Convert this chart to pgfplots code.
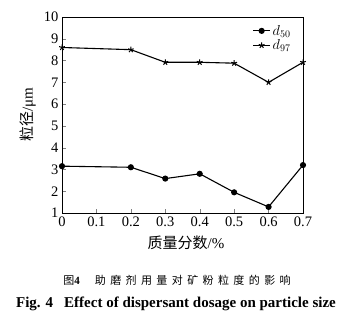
\documentclass[border=0pt]{standalone}
\usepackage{fontspec}
\setmainfont{Liberation Serif}
\newfontfamily\cjk{Noto Sans CJK SC}
\newfontfamily\cjkcap[LetterSpace=40]{Noto Sans CJK SC}
\usepackage{pgfplots}
\pgfplotsset{compat=1.18}
\begin{document}
\begin{tikzpicture}[x=1pt,y=1pt]
\useasboundingbox (0,0) rectangle (345,327);
\begin{axis}[
  at={(62pt,114pt)}, anchor=origin,
  scale only axis, width=241pt, height=196pt,
  xmin=0, xmax=0.7, ymin=1, ymax=10,
  xtick={0,0.1,...,0.7}, ytick={1,...,10},
  xticklabels={0,0.1,0.2,0.3,0.4,0.5,0.6,0.7},
  tick align=inside, tick pos=left,
  major tick length=4pt,
  axis line style={line width=1pt},
  /pgf/number format/assume math mode=true,
  tick label style={font=\fontsize{14.5}{14}\selectfont},
  legend style={draw=none, fill=none, at={(0.97,0.98)}, anchor=north east,
    font=\fontsize{14.5}{14}\selectfont, row sep=-1pt},
  legend cell align=left,
  clip=false,
]
\addplot[black, line width=1.1pt, mark=*, mark size=2.5pt] coordinates {
(0,3.15) (0.2,3.1) (0.3,2.58) (0.4,2.8) (0.5,1.95) (0.6,1.28) (0.7,3.2)};
\addlegendentry{$d_{50}$}
\addplot[black, line width=1.1pt, mark=star, mark size=3pt, mark options={line width=1pt}] coordinates {
(0,8.6) (0.2,8.5) (0.3,7.92) (0.4,7.92) (0.5,7.88) (0.6,7.0) (0.7,7.92)};
\addlegendentry{$d_{97}$}
\end{axis}
\node[rotate=90, font=\fontsize{15}{15}\selectfont] at (28,212) {{\cjk 粒径}/μm};
\node[font=\fontsize{15}{15}\selectfont] at (186,84) {{\cjk 质量分数}/\%};
\node[font=\fontsize{11}{11}\selectfont] at (177,47) {{\cjk 图}\textbf{4}\hspace{15pt}{\cjkcap 助磨剂用量对矿粉粒度的影响}};
\node[font=\bfseries\fontsize{15}{15}\selectfont] at (176,23) {Fig. 4\hspace{11pt}Effect of dispersant dosage on particle size};
\end{tikzpicture}
\end{document}
